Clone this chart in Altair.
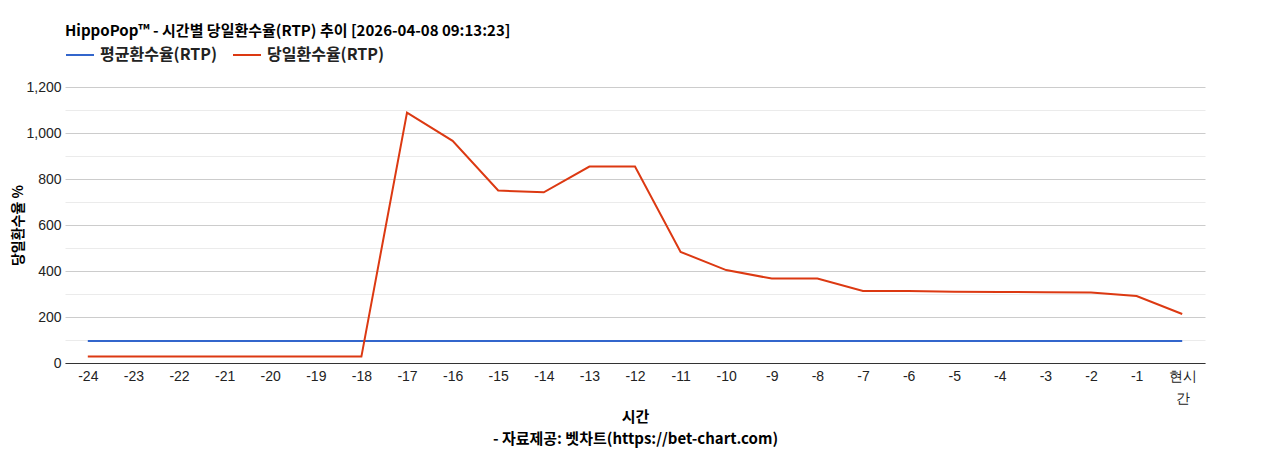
import altair as alt
import pandas as pd

hours = ["-24", "-23", "-22", "-21", "-20", "-19", "-18", "-17", "-16", "-15", "-14", "-13",
         "-12", "-11", "-10", "-9", "-8", "-7", "-6", "-5", "-4", "-3", "-2", "-1", "현시간"]
avg_rtp = [96, 96, 96, 96, 96, 96, 96, 96, 96, 96, 96, 96,
           96, 96, 96, 96, 96, 96, 96, 96, 96, 96, 96, 96, 96]
daily_rtp = [28, 28, 28, 28, 28, 28, 28, 1089, 966, 750, 742, 854,
             854, 483, 404, 367, 367, 313, 313, 310, 309, 308, 307, 291, 213]
series_names = ["평균환수율(RTP)", "당일환수율(RTP)"]
series_colors = ["#3366cc", "#dc3912"]

rows = []
for i, h in enumerate(hours):
    rows.append({"hour": h, "series": series_names[0], "value": avg_rtp[i], "order": i})
    rows.append({"hour": h, "series": series_names[1], "value": daily_rtp[i], "order": i})
df = pd.DataFrame(rows)

KR = "Noto Sans CJK KR"
NUM = "Liberation Sans"

chart = alt.Chart(df).mark_line(strokeWidth=2).encode(
    x=alt.X("hour:N", sort=hours,
            scale=alt.Scale(padding=0.5),
            axis=alt.Axis(title=["시간", "- 자료제공: 벳차트(https://bet-chart.com)"],
                          labelAngle=0, ticks=False, grid=False,
                          domainColor="#333333", domainWidth=1,
                          labelFont=NUM, labelFontSize=14, labelColor="#222222",
                          labelPadding=6, labelLineHeight=22,
                          labelExpr="datum.value == '현시간' ? ['현시', '간'] : datum.label",
                          titleFont=KR, titleFontSize=15, titleFontWeight="bold",
                          titleColor="#000000", titlePadding=4, titleLineHeight=22)),
    y=alt.Y("value:Q",
            scale=alt.Scale(domain=[0, 1200], nice=False),
            axis=alt.Axis(title="당일환수율 %",
                          values=[0, 100, 200, 300, 400, 500, 600, 700, 800, 900, 1000, 1100, 1200],
                          ticks=False, domain=False,
                          labelExpr="datum.value % 200 == 0 ? format(datum.value, ',') : ''",
                          gridColor=alt.condition("datum.value % 200 == 0",
                                                  alt.value("#cccccc"), alt.value("#ebebeb")),
                          labelFont=NUM, labelFontSize=14, labelColor="#222222",
                          labelPadding=4,
                          titleFont=KR, titleFontSize=14, titleFontWeight="bold",
                          titleColor="#000000", titlePadding=0)),
    color=alt.Color("series:N",
                    scale=alt.Scale(domain=series_names, range=series_colors),
                    legend=alt.Legend(title=None, orient="top", direction="horizontal",
                                      symbolType="stroke", symbolSize=784, symbolStrokeWidth=2,
                                      labelFont=KR, labelFontSize=16, labelFontWeight="bold",
                                      labelColor="#222222", columnPadding=12,
                                      offset=24, labelOffset=5)),
    order="order:Q",
).properties(
    width=1140,
    height=276,
    title=alt.Title("HippoPop™ - 시간별 당일환수율(RTP) 추이 [2026-04-08 09:13:23]",
                    anchor="start", frame="group", font=KR, fontSize=15, fontWeight="bold",
                    color="#000000", offset=1),
    padding={"left": 3, "top": 16, "right": 10, "bottom": 5},
).configure_view(stroke=None)

chart.save("out.html", embed_options={"renderer": "svg", "actions": False})
